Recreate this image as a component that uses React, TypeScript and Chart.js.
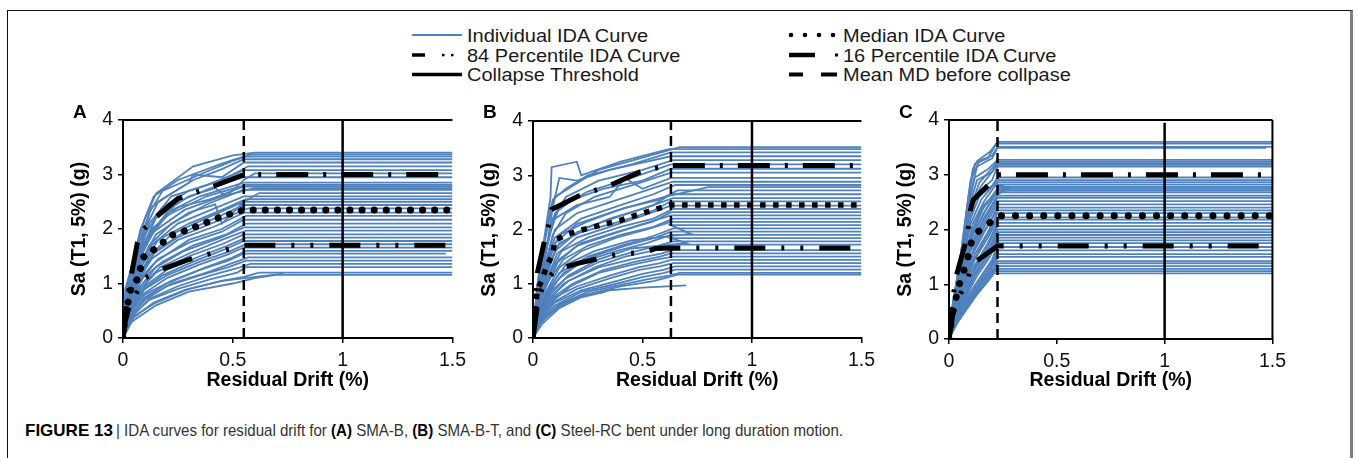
import React, { useEffect, useRef } from 'react';
import { Chart, registerables } from 'chart.js';

Chart.register(...registerables);

const FONT = '"Liberation Sans", Arial, Helvetica, sans-serif';
const BLUE = '#4F81BD';

// ---------- tick labels ----------
const xTickValues = [0, 0.5, 1, 1.5];
const yTickValues = [0, 1, 2, 3, 4];
const xMax = 1.5;
const yMax = 4;
const collapseDrift = 1.0;

// ---------- Panel A (SMA-B): individual IDA curves, pairs of [drift, Sa] ----------
const curvesA: number[][] = [
  [0, 0, 0.01, 0.9, 0.04, 1.3, 0.08, 2.0, 0.15, 2.65, 0.32, 3.15, 0.5, 3.35, 0.6, 3.4, 1.5, 3.4],
  [0, 0, 0.02, 1.0, 0.05, 1.5, 0.1, 2.2, 0.14, 2.6, 0.25, 2.9, 0.45, 3.2, 0.58, 3.37, 1.5, 3.37],
  [0, 0, 0.02, 0.8, 0.06, 1.4, 0.12, 2.3, 0.18, 2.7, 0.35, 3.0, 0.5, 3.25, 0.56, 3.33, 1.5, 3.33],
  [0, 0, 0.015, 0.7, 0.05, 1.3, 0.1, 2.0, 0.16, 2.5, 0.32, 2.9, 0.45, 3.1, 0.55, 3.28, 1.5, 3.28],
  [0, 0, 0.02, 0.9, 0.06, 1.6, 0.13, 2.4, 0.2, 2.6, 0.3, 2.85, 0.32, 3.0, 0.45, 2.95, 0.55, 3.22, 1.5, 3.22],
  [0, 0, 0.02, 0.75, 0.07, 1.5, 0.12, 2.1, 0.22, 2.6, 0.38, 2.8, 0.5, 3.0, 0.57, 3.15, 1.5, 3.15],
  [0, 0, 0.01, 0.6, 0.05, 1.2, 0.1, 1.9, 0.18, 2.4, 0.3, 2.7, 0.45, 2.9, 0.55, 3.08, 1.5, 3.08],
  [0, 0, 0.02, 0.8, 0.08, 1.6, 0.15, 2.2, 0.3, 2.6, 0.42, 2.75, 0.47, 2.6, 0.55, 2.9, 0.6, 3.02, 1.5, 3.02],
  [0, 0, 0.03, 0.9, 0.07, 1.4, 0.14, 2.0, 0.25, 2.5, 0.4, 2.75, 0.55, 2.95, 1.5, 2.95],
  [0, 0, 0.02, 0.7, 0.06, 1.3, 0.12, 1.9, 0.2, 2.3, 0.35, 2.6, 0.55, 2.85, 1.5, 2.85],
  [0, 0, 0.01, 0.5, 0.05, 1.1, 0.11, 1.8, 0.2, 2.25, 0.38, 2.6, 0.56, 2.81, 1.5, 2.81],
  [0, 0, 0.02, 0.85, 0.06, 1.4, 0.13, 2.0, 0.25, 2.4, 0.4, 2.55, 0.55, 2.78, 1.5, 2.78],
  [0, 0, 0.03, 0.8, 0.08, 1.5, 0.14, 1.95, 0.28, 2.35, 0.45, 2.6, 0.6, 2.75, 1.5, 2.75],
  [0, 0, 0.015, 0.6, 0.06, 1.2, 0.12, 1.7, 0.22, 2.1, 0.38, 2.45, 0.55, 2.72, 1.5, 2.72],
  [0, 0, 0.02, 0.7, 0.07, 1.3, 0.15, 1.9, 0.3, 2.3, 0.42, 2.45, 0.45, 2.1, 0.55, 2.5, 0.62, 2.66, 1.5, 2.66],
  [0, 0, 0.02, 0.65, 0.06, 1.1, 0.13, 1.7, 0.25, 2.1, 0.4, 2.35, 0.55, 2.6, 1.5, 2.6],
  [0, 0, 0.03, 0.75, 0.08, 1.3, 0.16, 1.8, 0.3, 2.1, 0.45, 2.35, 0.56, 2.55, 1.5, 2.55],
  [0, 0, 0.01, 0.4, 0.05, 0.95, 0.12, 1.5, 0.22, 1.9, 0.38, 2.2, 0.55, 2.5, 1.5, 2.5],
  [0, 0, 0.02, 0.6, 0.07, 1.1, 0.15, 1.6, 0.28, 1.95, 0.42, 2.2, 0.55, 2.44, 1.5, 2.44],
  [0, 0, 0.03, 0.7, 0.08, 1.2, 0.14, 1.55, 0.25, 1.85, 0.4, 2.1, 0.57, 2.38, 1.5, 2.38],
  [0, 0, 0.02, 0.55, 0.06, 1.0, 0.13, 1.45, 0.25, 1.8, 0.42, 2.05, 0.55, 2.3, 1.5, 2.3],
  [0, 0, 0.015, 0.5, 0.07, 1.0, 0.15, 1.4, 0.3, 1.8, 0.45, 2.0, 0.56, 2.24, 1.5, 2.24],
  [0, 0, 0.02, 0.6, 0.08, 1.1, 0.16, 1.45, 0.3, 1.75, 0.45, 1.95, 0.55, 2.17, 1.5, 2.17],
  [0, 0, 0.03, 0.65, 0.09, 1.1, 0.18, 1.4, 0.32, 1.7, 0.47, 1.9, 0.56, 2.1, 1.5, 2.1],
  [0, 0, 0.02, 0.5, 0.07, 0.9, 0.15, 1.3, 0.28, 1.6, 0.45, 1.85, 0.55, 2.03, 1.5, 2.03],
  [0, 0, 0.025, 0.55, 0.08, 0.95, 0.17, 1.3, 0.3, 1.55, 0.45, 1.8, 0.56, 1.97, 1.5, 1.97],
  [0, 0, 0.02, 0.45, 0.07, 0.85, 0.15, 1.2, 0.3, 1.5, 0.45, 1.72, 0.55, 1.9, 1.5, 1.9],
  [0, 0, 0.03, 0.55, 0.1, 0.95, 0.2, 1.25, 0.35, 1.5, 0.48, 1.7, 0.56, 1.84, 1.5, 1.84],
  [0, 0, 0.02, 0.4, 0.08, 0.85, 0.18, 1.15, 0.32, 1.4, 0.46, 1.62, 0.55, 1.78, 1.5, 1.78],
  [0, 0, 0.03, 0.5, 0.1, 0.9, 0.2, 1.15, 0.35, 1.4, 0.48, 1.58, 0.56, 1.72, 1.5, 1.72],
  [0, 0, 0.02, 0.4, 0.09, 0.8, 0.2, 1.1, 0.35, 1.35, 0.47, 1.52, 0.55, 1.66, 1.5, 1.66],
  [0, 0, 0.03, 0.45, 0.1, 0.8, 0.22, 1.05, 0.38, 1.3, 0.5, 1.48, 0.56, 1.6, 1.5, 1.6],
  [0, 0, 0.02, 0.35, 0.1, 0.75, 0.2, 1.0, 0.35, 1.25, 0.48, 1.42, 0.55, 1.55, 1.47, 1.55],
  [0, 0, 0.03, 0.4, 0.11, 0.75, 0.22, 1.0, 0.38, 1.2, 0.5, 1.38, 0.57, 1.48, 1.5, 1.48],
  [0, 0, 0.025, 0.35, 0.1, 0.7, 0.2, 0.95, 0.35, 1.15, 0.48, 1.3, 0.56, 1.42, 1.5, 1.42],
  [0, 0, 0.03, 0.35, 0.12, 0.72, 0.25, 0.95, 0.4, 1.15, 0.52, 1.28, 0.58, 1.36, 1.5, 1.36],
  [0, 0, 0.04, 0.4, 0.12, 0.7, 0.25, 0.9, 0.4, 1.08, 0.52, 1.2, 0.56, 1.3, 1.5, 1.3],
  [0, 0, 0.04, 0.35, 0.14, 0.65, 0.28, 0.88, 0.45, 1.05, 0.73, 1.18],
  [0, 0, 0.05, 0.4, 0.15, 0.65, 0.3, 0.9, 0.45, 1.05, 0.55, 1.12, 0.62, 1.2, 1.5, 1.2],
  [0, 0, 0.04, 0.3, 0.15, 0.6, 0.3, 0.85, 0.5, 1.0, 0.6, 1.1, 0.7, 1.16, 1.5, 1.16],
];
const medianA = [0, 0, 0.01, 0.45, 0.024, 0.67, 0.035, 0.88, 0.065, 1.08, 0.095, 1.49, 0.137, 1.61, 0.18, 1.75, 0.225, 1.89, 0.276, 1.96, 0.33, 2.04, 0.38, 2.12, 0.43, 2.2, 0.485, 2.27, 0.55, 2.35, 1.5, 2.35];
const p84A = [0, 0, 0.015, 0.6, 0.04, 1.2, 0.065, 1.74, 0.09, 1.98, 0.145, 2.2, 0.25, 2.56, 0.33, 2.67, 0.39, 2.75, 0.55, 3.0, 1.5, 3.0];
const p16A = [0, 0, 0.01, 0.3, 0.03, 0.6, 0.065, 0.85, 0.095, 1.09, 0.17, 1.25, 0.3, 1.44, 0.37, 1.52, 0.45, 1.6, 0.55, 1.7, 1.5, 1.7];
const meanMdA = 0.55;

// ---------- Panel B (SMA-B-T) ----------
const curvesB: number[][] = [
  [0, 0, 0.02, 0.9, 0.05, 1.7, 0.08, 2.3, 0.1, 2.6, 0.3, 3.1, 0.55, 3.38, 0.67, 3.52, 1.5, 3.52],
  [0, 0, 0.02, 1.0, 0.05, 1.8, 0.08, 2.6, 0.085, 3.15, 0.2, 3.25, 0.22, 3.0, 0.4, 3.25, 0.62, 3.48, 1.5, 3.48],
  [0, 0, 0.015, 0.8, 0.04, 1.5, 0.07, 2.2, 0.09, 2.55, 0.15, 2.75, 0.25, 3.0, 0.45, 3.2, 0.63, 3.42, 1.5, 3.42],
  [0, 0, 0.02, 0.85, 0.06, 1.6, 0.09, 2.4, 0.12, 2.95, 0.2, 2.9, 0.35, 3.1, 0.63, 3.35, 1.5, 3.35],
  [0, 0, 0.02, 0.7, 0.05, 1.4, 0.09, 2.2, 0.15, 2.6, 0.3, 2.9, 0.5, 3.1, 0.64, 3.28, 1.5, 3.28],
  [0, 0, 0.015, 0.75, 0.05, 1.5, 0.08, 2.0, 0.12, 2.4, 0.25, 2.7, 0.45, 2.95, 0.63, 3.2, 1.5, 3.2],
  [0, 0, 0.02, 0.8, 0.06, 1.6, 0.1, 2.3, 0.18, 2.55, 0.32, 2.75, 0.5, 2.9, 0.63, 3.12, 1.5, 3.12],
  [0, 0, 0.02, 0.6, 0.05, 1.2, 0.09, 1.9, 0.15, 2.3, 0.28, 2.6, 0.48, 2.85, 0.63, 3.05, 1.5, 3.05],
  [0, 0, 0.02, 0.9, 0.06, 1.7, 0.1, 2.2, 0.2, 2.45, 0.35, 2.6, 0.42, 2.95, 0.5, 2.75, 0.63, 2.95, 1.5, 2.95],
  [0, 0, 0.015, 0.6, 0.05, 1.3, 0.1, 2.0, 0.2, 2.3, 0.35, 2.5, 0.5, 2.7, 0.64, 2.88, 1.5, 2.88],
  [0, 0, 0.02, 0.7, 0.06, 1.4, 0.1, 1.85, 0.22, 2.2, 0.4, 2.45, 0.55, 2.65, 0.65, 2.82, 1.5, 2.82],
  [0, 0, 0.02, 0.55, 0.05, 1.1, 0.1, 1.75, 0.2, 2.1, 0.38, 2.35, 0.6, 2.6, 0.8, 2.78, 1.5, 2.78],
  [0, 0, 0.025, 0.75, 0.07, 1.45, 0.12, 1.9, 0.25, 2.15, 0.42, 2.4, 0.58, 2.55, 0.66, 2.72, 1.5, 2.72],
  [0, 0, 0.02, 0.6, 0.06, 1.2, 0.11, 1.7, 0.25, 2.05, 0.4, 2.25, 0.55, 2.45, 0.63, 2.65, 1.5, 2.65],
  [0, 0, 0.015, 0.5, 0.05, 1.0, 0.1, 1.6, 0.2, 1.95, 0.35, 2.2, 0.5, 2.38, 0.64, 2.58, 1.5, 2.58],
  [0, 0, 0.02, 0.65, 0.07, 1.3, 0.12, 1.75, 0.22, 1.95, 0.4, 2.15, 0.55, 2.35, 0.63, 2.52, 1.5, 2.52],
  [0, 0, 0.02, 0.55, 0.06, 1.05, 0.11, 1.55, 0.2, 1.85, 0.35, 2.05, 0.5, 2.25, 0.63, 2.44, 1.5, 2.44],
  [0, 0, 0.025, 0.6, 0.07, 1.15, 0.13, 1.6, 0.25, 1.85, 0.4, 2.05, 0.55, 2.2, 0.64, 2.38, 1.5, 2.38],
  [0, 0, 0.02, 0.5, 0.06, 0.95, 0.12, 1.45, 0.22, 1.75, 0.38, 1.95, 0.55, 2.15, 0.63, 2.32, 1.5, 2.32],
  [0, 0, 0.015, 0.45, 0.05, 0.9, 0.1, 1.35, 0.2, 1.7, 0.35, 1.9, 0.5, 2.1, 0.63, 2.26, 1.5, 2.26],
  [0, 0, 0.02, 0.55, 0.07, 1.05, 0.14, 1.45, 0.25, 1.7, 0.4, 1.9, 0.55, 2.05, 0.64, 2.2, 1.5, 2.2],
  [0, 0, 0.02, 0.45, 0.06, 0.85, 0.12, 1.3, 0.22, 1.6, 0.38, 1.85, 0.52, 2.0, 0.63, 2.14, 1.5, 2.14],
  [0, 0, 0.025, 0.5, 0.08, 0.95, 0.15, 1.35, 0.28, 1.6, 0.45, 1.8, 0.72, 1.92, 0.63, 2.08, 1.5, 2.08],
  [0, 0, 0.02, 0.4, 0.06, 0.8, 0.12, 1.2, 0.25, 1.5, 0.4, 1.7, 0.55, 1.88, 0.64, 2.02, 1.5, 2.02],
  [0, 0, 0.02, 0.45, 0.07, 0.85, 0.14, 1.2, 0.27, 1.5, 0.42, 1.7, 0.56, 1.85, 0.63, 1.96, 1.5, 1.96],
  [0, 0, 0.015, 0.35, 0.06, 0.75, 0.12, 1.1, 0.22, 1.4, 0.38, 1.6, 0.52, 1.75, 0.63, 1.9, 1.5, 1.9],
  [0, 0, 0.02, 0.4, 0.08, 0.8, 0.16, 1.15, 0.3, 1.45, 0.45, 1.65, 0.7, 1.75, 0.63, 1.84, 1.5, 1.84],
  [0, 0, 0.025, 0.45, 0.08, 0.85, 0.15, 1.1, 0.3, 1.4, 0.45, 1.58, 0.57, 1.7, 0.64, 1.78, 1.5, 1.78],
  [0, 0, 0.02, 0.35, 0.07, 0.7, 0.14, 1.0, 0.28, 1.3, 0.42, 1.5, 0.56, 1.62, 0.63, 1.72, 1.5, 1.72],
  [0, 0, 0.02, 0.38, 0.08, 0.75, 0.16, 1.05, 0.3, 1.3, 0.45, 1.45, 0.58, 1.55, 0.64, 1.62, 1.5, 1.62],
  [0, 0, 0.025, 0.4, 0.09, 0.75, 0.18, 1.0, 0.32, 1.25, 0.46, 1.4, 0.58, 1.5, 0.63, 1.56, 1.5, 1.56],
  [0, 0, 0.02, 0.3, 0.08, 0.65, 0.17, 0.95, 0.3, 1.2, 0.45, 1.35, 0.57, 1.45, 0.64, 1.5, 1.5, 1.5],
  [0, 0, 0.03, 0.4, 0.1, 0.75, 0.2, 0.95, 0.35, 1.15, 0.48, 1.3, 0.58, 1.38, 0.63, 1.44, 1.5, 1.44],
  [0, 0, 0.02, 0.3, 0.09, 0.65, 0.2, 0.9, 0.35, 1.1, 0.48, 1.25, 0.58, 1.32, 0.64, 1.38, 1.5, 1.38],
  [0, 0, 0.03, 0.35, 0.1, 0.65, 0.22, 0.88, 0.38, 1.05, 0.5, 1.18, 0.6, 1.26, 0.65, 1.32, 1.5, 1.32],
  [0, 0, 0.025, 0.3, 0.1, 0.6, 0.22, 0.85, 0.38, 1.0, 0.5, 1.12, 0.6, 1.2, 0.65, 1.26, 1.5, 1.26],
  [0, 0, 0.03, 0.3, 0.12, 0.62, 0.25, 0.85, 0.4, 0.98, 0.52, 1.08, 0.62, 1.15, 0.67, 1.2, 1.5, 1.2],
  [0, 0, 0.03, 0.25, 0.1, 0.55, 0.2, 0.75, 0.35, 0.88, 0.5, 0.93, 0.7, 0.97],
  [0, 0, 0.04, 0.25, 0.12, 0.55, 0.22, 0.75, 0.33, 0.85],
  [0, 0, 0.035, 0.3, 0.12, 0.58, 0.24, 0.8, 0.4, 0.95, 0.55, 1.05, 0.62, 1.12, 0.66, 1.17, 1.5, 1.17],
];
const medianB = [0, 0, 0.01, 0.5, 0.02, 0.9, 0.04, 1.05, 0.06, 1.3, 0.09, 1.55, 0.1, 1.8, 0.15, 1.9, 0.2, 1.97, 0.3, 2.07, 0.4, 2.17, 0.5, 2.3, 0.6, 2.42, 0.63, 2.45, 1.5, 2.45];
const p84B = [0, 0, 0.01, 0.6, 0.02, 1.2, 0.05, 1.75, 0.07, 2.05, 0.085, 2.37, 0.21, 2.62, 0.29, 2.73, 0.36, 2.83, 0.49, 3.06, 0.6, 3.17, 0.63, 3.18, 1.5, 3.18];
const p16B = [0, 0, 0.02, 0.6, 0.04, 0.9, 0.07, 1.1, 0.1, 1.25, 0.2, 1.37, 0.38, 1.54, 0.51, 1.58, 0.56, 1.65, 0.63, 1.66, 1.5, 1.66];
const meanMdB = 0.63;

// ---------- Panel C (Steel-RC) ----------
const curvesC: number[][] = [
  [0, 0, 0.015, 0.6, 0.05, 1.4, 0.09, 2.6, 0.11, 3.1, 0.13, 3.25, 0.19, 3.42, 0.225, 3.6, 1.5, 3.6],
  [0, 0, 0.02, 0.7, 0.06, 1.6, 0.1, 2.8, 0.12, 3.2, 0.18, 3.3, 0.22, 3.57, 1.5, 3.57],
  [0, 0, 0.02, 0.65, 0.06, 1.7, 0.1, 2.9, 0.14, 3.25, 0.2, 3.35, 0.225, 3.51, 1.5, 3.51],
  [0, 0, 0.015, 0.55, 0.05, 1.3, 0.09, 2.5, 0.13, 3.15, 0.2, 3.3, 0.225, 3.49, 1.47, 3.49],
  [0, 0, 0.02, 0.6, 0.06, 1.5, 0.1, 2.6, 0.12, 2.95, 0.18, 3.1, 0.225, 3.27, 1.5, 3.27],
  [0, 0, 0.02, 0.55, 0.05, 1.3, 0.1, 2.5, 0.13, 2.9, 0.2, 3.05, 0.225, 3.24, 1.5, 3.24],
  [0, 0, 0.015, 0.5, 0.06, 1.4, 0.1, 2.4, 0.14, 2.85, 0.22, 3.21, 1.5, 3.21],
  [0, 0, 0.02, 0.6, 0.06, 1.35, 0.11, 2.5, 0.15, 2.8, 0.225, 3.18, 1.5, 3.18],
  [0, 0, 0.02, 0.5, 0.05, 1.2, 0.1, 2.3, 0.14, 2.7, 0.2, 2.9, 0.225, 3.15, 1.5, 3.15],
  [0, 0, 0.02, 0.55, 0.06, 1.3, 0.1, 2.2, 0.14, 2.6, 0.2, 2.8, 0.225, 2.95, 1.5, 2.95],
  [0, 0, 0.015, 0.45, 0.05, 1.15, 0.1, 2.1, 0.15, 2.55, 0.225, 2.9, 1.5, 2.9],
  [0, 0, 0.02, 0.5, 0.06, 1.25, 0.11, 2.1, 0.16, 2.5, 0.225, 2.86, 1.5, 2.86],
  [0, 0, 0.02, 0.45, 0.06, 1.1, 0.1, 1.9, 0.15, 2.4, 0.2, 2.6, 0.28, 2.75, 0.225, 2.82, 1.5, 2.82],
  [0, 0, 0.015, 0.4, 0.05, 1.0, 0.1, 1.85, 0.15, 2.35, 0.2, 2.6, 0.26, 2.72, 0.225, 2.78, 1.5, 2.78],
  [0, 0, 0.02, 0.5, 0.07, 1.3, 0.11, 1.95, 0.16, 2.4, 0.225, 2.75, 1.5, 2.75],
  [0, 0, 0.02, 0.4, 0.06, 1.05, 0.1, 1.8, 0.16, 2.3, 0.225, 2.72, 1.5, 2.72],
  [0, 0, 0.015, 0.45, 0.06, 1.15, 0.11, 1.9, 0.17, 2.35, 0.225, 2.68, 1.5, 2.68],
  [0, 0, 0.02, 0.5, 0.07, 1.2, 0.11, 1.8, 0.16, 2.2, 0.225, 2.62, 1.5, 2.62],
  [0, 0, 0.02, 0.4, 0.06, 1.0, 0.1, 1.65, 0.15, 2.1, 0.225, 2.58, 1.5, 2.58],
  [0, 0, 0.015, 0.35, 0.05, 0.95, 0.1, 1.6, 0.16, 2.1, 0.225, 2.52, 1.5, 2.52],
  [0, 0, 0.02, 0.45, 0.07, 1.1, 0.12, 1.7, 0.17, 2.1, 0.225, 2.46, 1.5, 2.46],
  [0, 0, 0.02, 0.4, 0.07, 1.0, 0.11, 1.55, 0.17, 2.0, 0.225, 2.4, 1.5, 2.4],
  [0, 0, 0.015, 0.35, 0.06, 0.95, 0.1, 1.5, 0.16, 1.95, 0.225, 2.35, 1.5, 2.35],
  [0, 0, 0.02, 0.4, 0.07, 1.0, 0.12, 1.55, 0.18, 1.95, 0.225, 2.3, 1.5, 2.3],
  [0, 0, 0.02, 0.35, 0.06, 0.9, 0.11, 1.4, 0.17, 1.85, 0.225, 2.22, 1.5, 2.22],
  [0, 0, 0.015, 0.3, 0.07, 0.95, 0.12, 1.45, 0.18, 1.85, 0.225, 2.18, 1.5, 2.18],
  [0, 0, 0.02, 0.35, 0.07, 0.9, 0.12, 1.35, 0.18, 1.75, 0.225, 2.12, 1.5, 2.12],
  [0, 0, 0.02, 0.3, 0.06, 0.8, 0.11, 1.25, 0.18, 1.7, 0.225, 2.06, 1.5, 2.06],
  [0, 0, 0.02, 0.35, 0.08, 0.9, 0.13, 1.35, 0.19, 1.7, 0.225, 2.0, 1.5, 2.0],
  [0, 0, 0.015, 0.3, 0.07, 0.8, 0.12, 1.25, 0.18, 1.6, 0.225, 1.95, 1.5, 1.95],
  [0, 0, 0.02, 0.3, 0.08, 0.85, 0.13, 1.25, 0.19, 1.6, 0.225, 1.9, 1.5, 1.9],
  [0, 0, 0.02, 0.3, 0.07, 0.75, 0.12, 1.15, 0.18, 1.5, 0.225, 1.85, 1.5, 1.85],
  [0, 0, 0.025, 0.35, 0.08, 0.8, 0.13, 1.15, 0.19, 1.5, 0.225, 1.8, 1.5, 1.8],
  [0, 0, 0.02, 0.28, 0.08, 0.75, 0.14, 1.1, 0.2, 1.45, 0.225, 1.75, 1.5, 1.75],
  [0, 0, 0.02, 0.25, 0.08, 0.7, 0.14, 1.05, 0.2, 1.4, 0.225, 1.68, 1.5, 1.68],
  [0, 0, 0.025, 0.3, 0.09, 0.75, 0.15, 1.05, 0.2, 1.35, 0.225, 1.62, 1.5, 1.62],
  [0, 0, 0.02, 0.25, 0.09, 0.7, 0.15, 1.0, 0.2, 1.3, 0.225, 1.55, 1.5, 1.55],
  [0, 0, 0.025, 0.28, 0.1, 0.75, 0.16, 1.05, 0.21, 1.3, 0.225, 1.5, 1.5, 1.5],
  [0, 0, 0.03, 0.3, 0.1, 0.72, 0.16, 1.0, 0.21, 1.25, 0.225, 1.42, 1.5, 1.42],
  [0, 0, 0.025, 0.25, 0.1, 0.68, 0.16, 0.98, 0.2, 1.2, 0.225, 1.38, 1.5, 1.38],
  [0, 0, 0.03, 0.28, 0.11, 0.72, 0.17, 1.0, 0.2, 1.15, 0.225, 1.33, 1.5, 1.33],
  [0, 0, 0.035, 0.3, 0.11, 0.75, 0.16, 1.1, 0.2, 1.2, 0.225, 1.28, 1.5, 1.28],
  [0, 0, 0.03, 0.25, 0.11, 0.7, 0.16, 1.0, 0.2, 1.18, 0.21, 1.24, 1.5, 1.24],
  [0, 0, 0.04, 0.3, 0.11, 0.77, 0.16, 1.14, 0.21, 1.2, 1.5, 1.2],
];
const medianC = [0, 0, 0.015, 0.45, 0.032, 0.74, 0.048, 1.0, 0.069, 1.25, 0.088, 1.5, 0.102, 1.75, 0.135, 1.96, 0.186, 2.11, 0.225, 2.25, 1.5, 2.25];
const p84C = [0, 0, 0.01, 0.55, 0.035, 1.17, 0.074, 1.72, 0.089, 2.02, 0.1, 2.36, 0.112, 2.54, 0.174, 2.78, 0.225, 3.0, 1.5, 3.0];
const p16C = [0, 0, 0.02, 0.5, 0.054, 0.83, 0.089, 1.14, 0.112, 1.38, 0.225, 1.7, 1.5, 1.7];
const meanMdC = 0.225;

// ---------- text ----------
const xTitle = 'Residual Drift (%)';
const yTitle = 'Sa (T1, 5%) (g)';
const legendLabels = [
  'Individual IDA Curve',
  'Median IDA Curve',
  '84 Percentile IDA Curve',
  '16 Percentile IDA Curve',
  'Collapse Threshold',
  'Mean MD before collpase',
];

type Plot = { left: number; top: number; right: number; bottom: number };
type PanelSpec = {
  letter: string;
  curves: number[][];
  median: number[];
  p84: number[];
  p16: number[];
  meanMd: number;
  collapseTop: number;
  squareMedian: boolean;
  medianGap: number;
  rightFrame: boolean;
  plot: Plot;
};

const panels: PanelSpec[] = [
  { letter: 'A', curves: curvesA, median: medianA, p84: p84A, p16: p16A, meanMd: meanMdA, collapseTop: 4, squareMedian: false, medianGap: 12, rightFrame: false, plot: { left: 123, top: 120, right: 454, bottom: 338 } },
  { letter: 'B', curves: curvesB, median: medianB, p84: p84B, p16: p16B, meanMd: meanMdB, collapseTop: 4, squareMedian: true, medianGap: 13, rightFrame: false, plot: { left: 533, top: 121, right: 863, bottom: 338 } },
  { letter: 'C', curves: curvesC, median: medianC, p84: p84C, p16: p16C, meanMd: meanMdC, collapseTop: 3.95, squareMedian: false, medianGap: 14, rightFrame: true, plot: { left: 949, top: 120, right: 1274, bottom: 339 } },
];

const CANVAS_BOTTOM = 396;
const Y_AXIS_W = 60;
const PAD_TOP = 20;
const PAD_RIGHT = 18;

function toPts(a: number[]) {
  const r: { x: number; y: number }[] = [];
  for (let i = 0; i + 1 < a.length; i += 2) r.push({ x: a[i], y: a[i + 1] });
  return r;
}

const framePlugin = {
  id: 'frame',
  afterDatasetsDraw(chart: any, _args: any, opts: any) {
    const { ctx, chartArea } = chart;
    const { left, top, right, bottom } = chartArea;
    ctx.save();
    ctx.strokeStyle = '#000';
    ctx.lineWidth = 2;
    ctx.beginPath();
    ctx.moveTo(left, top);
    ctx.lineTo(right, top);
    if (opts && opts.right) {
      ctx.moveTo(right, top);
      ctx.lineTo(right, bottom);
    }
    ctx.stroke();
    ctx.restore();
  },
};

function buildConfig(p: PanelSpec): any {
  const datasets: any[] = [];
  const base = { pointRadius: 0, pointHoverRadius: 0, showLine: true, fill: false, tension: 0 };
  p.curves.forEach((c) =>
    datasets.push({ ...base, data: toPts(c), borderColor: BLUE, borderWidth: 1.8, order: 10 })
  );
  datasets.push({ ...base, data: [{ x: p.meanMd, y: 0 }, { x: p.meanMd, y: yMax }], borderColor: '#000', borderWidth: 2.5, borderDash: [10, 6], order: 5 });
  datasets.push({ ...base, data: [{ x: collapseDrift, y: 0 }, { x: collapseDrift, y: p.collapseTop }], borderColor: '#000', borderWidth: 2.5, order: 5 });
  datasets.push({ ...base, data: toPts(p.p16), borderColor: '#000', borderWidth: 5, borderDash: [31, 16, 3, 16, 3, 16], borderCapStyle: 'butt', order: 1 });
  datasets.push({ ...base, data: toPts(p.p84), borderColor: '#000', borderWidth: 5, borderDash: [32, 15, 3, 15], borderCapStyle: 'butt', order: 1 });
  if (p.squareMedian) {
    datasets.push({ ...base, data: toPts(p.median), borderColor: '#000', borderWidth: 5.5, borderDash: [5.5, p.medianGap - 5.5], borderCapStyle: 'butt', order: 1 });
  } else {
    datasets.push({ ...base, data: toPts(p.median), borderColor: '#000', borderWidth: 7, borderDash: [0.1, p.medianGap], borderCapStyle: 'round', order: 1 });
  }
  const xAxisH = CANVAS_BOTTOM - p.plot.bottom;
  return {
    type: 'scatter',
    data: { datasets },
    plugins: [framePlugin],
    options: {
      responsive: false,
      maintainAspectRatio: false,
      animation: false,
      events: [],
      layout: { padding: { top: PAD_TOP, right: PAD_RIGHT, left: 0, bottom: 0 } },
      plugins: { legend: { display: false }, tooltip: { enabled: false }, frame: { right: p.rightFrame } },
      scales: {
        x: {
          type: 'linear',
          min: 0,
          max: xMax,
          afterBuildTicks: (s: any) => { s.ticks = xTickValues.map((v) => ({ value: v })); },
          afterFit: (s: any) => { s.height = xAxisH; },
          ticks: { font: { family: FONT, size: 19.5 }, color: '#111', padding: 6, maxRotation: 0, autoSkip: false, callback: (v: any) => String(v) },
          grid: { display: true, drawOnChartArea: false, drawTicks: true, tickLength: 5, color: '#000', lineWidth: 1.5 },
          border: { display: true, color: '#000', width: 2 },
          title: { display: true, text: xTitle, color: '#000', font: { family: FONT, size: 19.5, weight: 'bold', lineHeight: 1.2 }, padding: { top: 0, bottom: 4 } },
        },
        y: {
          type: 'linear',
          min: 0,
          max: yMax,
          afterBuildTicks: (s: any) => { s.ticks = yTickValues.map((v) => ({ value: v })); },
          afterFit: (s: any) => { s.width = Y_AXIS_W; },
          ticks: { font: { family: FONT, size: 19.5 }, color: '#111', padding: 5, autoSkip: false, callback: (v: any) => String(v) },
          grid: { display: true, drawOnChartArea: false, drawTicks: true, tickLength: 5, color: '#000', lineWidth: 1.5 },
          border: { display: true, color: '#000', width: 2 },
          title: { display: true, text: yTitle, color: '#000', font: { family: FONT, size: 19.5, weight: 'bold', lineHeight: 1.2 }, padding: { top: 5, bottom: 0 } },
        },
      },
    },
  };
}

function PanelChart({ p }: { p: PanelSpec }) {
  const ref = useRef<HTMLCanvasElement | null>(null);
  const left = p.plot.left - Y_AXIS_W;
  const top = p.plot.top - PAD_TOP;
  const width = p.plot.right + PAD_RIGHT - left;
  const height = CANVAS_BOTTOM - top;
  useEffect(() => {
    if (!ref.current) return;
    const chart = new Chart(ref.current, buildConfig(p));
    return () => chart.destroy();
  }, [p]);
  return (
    <canvas
      ref={ref}
      width={width}
      height={height}
      style={{ position: 'absolute', left, top, width, height }}
    />
  );
}

const legendTextStyle = (left: number, top: number): React.CSSProperties => ({
  position: 'absolute',
  left,
  top,
  fontFamily: FONT,
  fontSize: 18.7,
  lineHeight: '20px',
  color: '#1a1a1a',
  whiteSpace: 'nowrap',
  transform: 'scaleX(1.07)',
  transformOrigin: 'left center',
});

export default function App() {
  const restRef = useRef<HTMLSpanElement | null>(null);
  useEffect(() => {
    document.body.style.margin = '0';
    document.body.style.overflow = 'hidden';
    const el = restRef.current;
    if (el) {
      el.style.transform = 'none';
      const w = el.getBoundingClientRect().width;
      if (w > 0) el.style.transform = `scaleX(${727 / w})`;
    }
  }, []);

  const r1 = 35, r2 = 55, r3 = 74.5;
  const c1 = 412, c2 = 789;
  return (
    <div style={{ position: 'absolute', left: 0, top: 0, width: 1357, height: 458, overflow: 'hidden', background: '#fff' }}>
      <div style={{ position: 'absolute', left: 7, top: 10, width: 1346, height: 470, borderLeft: '1.5px solid #111', borderTop: '1.5px solid #111', borderRight: '3px solid #808080', boxSizing: 'border-box' }} />

      {/* legend samples */}
      <svg width={1357} height={100} style={{ position: 'absolute', left: 0, top: 0 }}>
        <line x1={c1} y1={r1} x2={c1 + 50} y2={r1} stroke={BLUE} strokeWidth={2} />
        <line x1={c1} y1={r2} x2={c1 + 13} y2={r2} stroke="#000" strokeWidth={3.5} />
        <rect x={c1 + 30} y={r2 - 1.2} width={2.5} height={2.5} fill="#000" />
        <rect x={c1 + 39} y={r2 - 1.2} width={2.5} height={2.5} fill="#000" />
        <line x1={c1} y1={r3} x2={c1 + 50} y2={r3} stroke="#000" strokeWidth={3.5} />
        {[0, 14, 28, 42].map((d) => (
          <circle key={d} cx={c2 + 2 + d} cy={r1} r={2.3} fill="#000" />
        ))}
        <line x1={c2} y1={r2} x2={c2 + 26} y2={r2} stroke="#000" strokeWidth={4.5} />
        <rect x={c2 + 46} y={r2 - 1.5} width={3} height={3} fill="#000" />
        <line x1={c2} y1={r3} x2={c2 + 14} y2={r3} stroke="#000" strokeWidth={4} />
        <line x1={c2 + 32} y1={r3} x2={c2 + 48} y2={r3} stroke="#000" strokeWidth={4} />
      </svg>
      <div style={legendTextStyle(467, r1 - 9.5)}>{legendLabels[0]}</div>
      <div style={legendTextStyle(843, r1 - 9.5)}>{legendLabels[1]}</div>
      <div style={legendTextStyle(467, r2 - 9.5)}>{legendLabels[2]}</div>
      <div style={legendTextStyle(843, r2 - 9.5)}>{legendLabels[3]}</div>
      <div style={legendTextStyle(467, r3 - 9.5)}>{legendLabels[4]}</div>
      <div style={legendTextStyle(843, r3 - 9.5)}>{legendLabels[5]}</div>

      {panels.map((p) => (
        <PanelChart key={p.letter} p={p} />
      ))}
      {panels.map((p) => (
        <div
          key={'L' + p.letter}
          style={{ position: 'absolute', left: p.plot.left - 50, top: 102, fontFamily: FONT, fontWeight: 700, fontSize: 19, lineHeight: '20px', color: '#000' }}
        >
          {p.letter}
        </div>
      ))}

      <div style={{ position: 'absolute', left: 25, top: 421, whiteSpace: 'nowrap', fontFamily: FONT, fontSize: 17, lineHeight: '20px', color: '#333' }}>
        <span style={{ fontWeight: 700, color: '#000' }}>FIGURE 13</span>
        <span ref={restRef} style={{ display: 'inline-block', transformOrigin: 'left center', marginLeft: 3 }}>
          | IDA curves for residual drift for <b style={{ color: '#000' }}>(A)</b> SMA-B, <b style={{ color: '#000' }}>(B)</b> SMA-B-T, and <b style={{ color: '#000' }}>(C)</b> Steel-RC bent under long duration motion.
        </span>
      </div>
    </div>
  );
}
